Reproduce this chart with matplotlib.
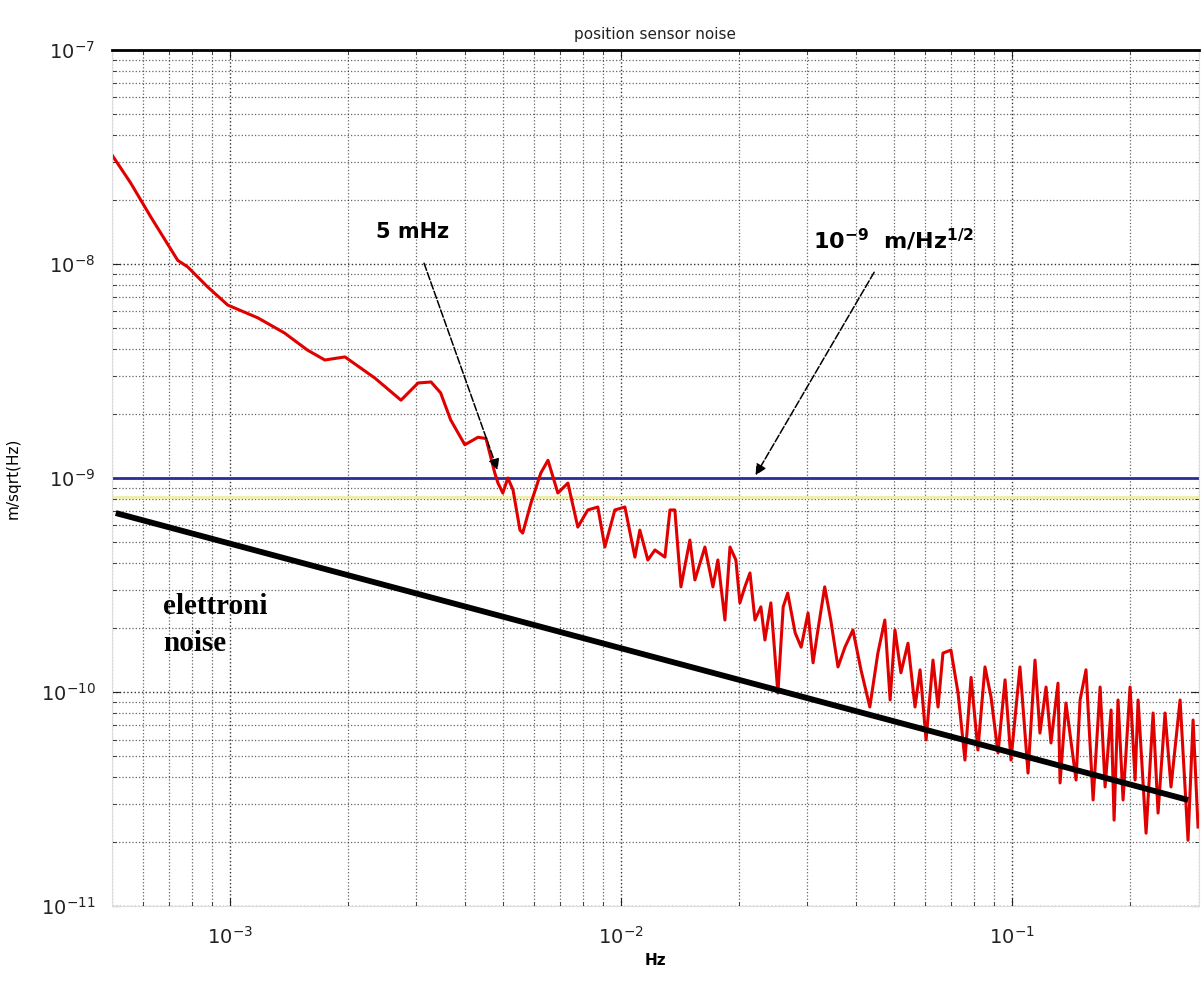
import matplotlib
matplotlib.use("Agg")
import matplotlib.pyplot as plt

# Position sensor noise spectrum (Hz, m/sqrt(Hz))
freq = [5.0e-4, 5.58e-4, 6.28e-4, 7.36e-4, 7.81e-4, 8.78e-4, 9.88e-4, 1.18e-3, 1.38e-3,
        1.58e-3, 1.75e-3, 1.97e-3, 2.35e-3, 2.74e-3, 3.03e-3, 3.27e-3, 3.46e-3, 3.67e-3,
        3.99e-3, 4.31e-3, 4.52e-3, 4.76e-3, 4.85e-3, 4.99e-3, 5.14e-3, 5.30e-3, 5.52e-3,
        5.61e-3, 5.89e-3, 6.24e-3, 6.51e-3, 6.90e-3, 7.32e-3, 7.76e-3, 8.23e-3, 8.73e-3,
        9.10e-3, 9.65e-3, 1.024e-2, 1.086e-2, 1.118e-2, 1.172e-2, 1.222e-2, 1.296e-2,
        1.335e-2, 1.374e-2, 1.424e-2, 1.501e-2, 1.546e-2, 1.640e-2, 1.719e-2, 1.770e-2,
        1.845e-2, 1.901e-2, 1.968e-2, 2.015e-2, 2.075e-2, 2.138e-2, 2.202e-2, 2.28e-2,
        2.335e-2, 2.418e-2, 2.52e-2, 2.60e-2, 2.67e-2, 2.79e-2, 2.89e-2, 3.01e-2, 3.10e-2,
        3.19e-2, 3.32e-2, 3.44e-2, 3.59e-2, 3.74e-2, 3.92e-2, 4.11e-2, 4.33e-2, 4.54e-2,
        4.73e-2, 4.88e-2, 5.02e-2, 5.20e-2, 5.42e-2, 5.65e-2, 5.82e-2, 6.03e-2, 6.28e-2,
        6.47e-2, 6.66e-2, 6.98e-2, 7.28e-2, 7.58e-2, 7.86e-2, 8.18e-2, 8.53e-2, 8.84e-2,
        9.21e-2, 9.60e-2, 9.94e-2, 0.1048, 0.1099, 0.1145, 0.1179, 0.1222, 0.1258, 0.1311,
        0.1327, 0.1374, 0.1458, 0.1493, 0.1546, 0.1612, 0.1680, 0.1730, 0.1792, 0.1824,
        0.1867, 0.1923, 0.2004, 0.2064, 0.2101, 0.2202, 0.2295, 0.2363, 0.2462, 0.2550,
        0.2690, 0.2819, 0.2904, 0.299]
asd = [3.23e-8, 2.39e-8, 1.66e-8, 1.04e-8, 9.68e-9, 7.81e-9, 6.43e-9, 5.60e-9, 4.76e-9,
       3.96e-9, 3.56e-9, 3.68e-9, 2.93e-9, 2.31e-9, 2.78e-9, 2.81e-9, 2.50e-9, 1.87e-9,
       1.43e-9, 1.55e-9, 1.53e-9, 1.055e-9, 9.47e-10, 8.51e-10, 1.0e-9, 8.79e-10, 5.71e-10,
       5.53e-10, 7.64e-10, 1.055e-9, 1.21e-9, 8.51e-10, 9.47e-10, 5.90e-10, 7.09e-10, 7.32e-10,
       4.76e-10, 7.09e-10, 7.32e-10, 4.27e-10, 5.71e-10, 4.14e-10, 4.61e-10, 4.27e-10,
       7.09e-10, 7.09e-10, 3.10e-10, 5.13e-10, 3.34e-10, 4.76e-10, 3.10e-10, 4.14e-10,
       2.17e-10, 4.76e-10, 4.14e-10, 2.61e-10, 3.10e-10, 3.60e-10, 2.17e-10, 2.50e-10,
       1.75e-10, 2.61e-10, 9.89e-11, 2.50e-10, 2.90e-10, 1.89e-10, 1.62e-10, 2.34e-10, 1.37e-10,
       1.95e-10, 3.10e-10, 2.17e-10, 1.31e-10, 1.62e-10, 1.95e-10, 1.27e-10, 8.51e-11, 1.52e-10,
       2.17e-10, 9.18e-11, 1.95e-10, 1.23e-10, 1.69e-10, 8.51e-11, 1.27e-10, 5.97e-11, 1.41e-10,
       8.51e-11, 1.52e-10, 1.57e-10, 9.89e-11, 4.81e-11, 1.17e-10, 5.36e-11, 1.31e-10, 9.47e-11,
       5.19e-11, 1.14e-10, 4.81e-11, 1.31e-10, 4.18e-11, 1.41e-10, 6.43e-11, 1.055e-10, 5.78e-11,
       1.10e-10, 3.76e-11, 8.88e-11, 3.88e-11, 9.18e-11, 1.27e-10, 3.13e-11, 1.055e-10,
       3.60e-11, 8.24e-11, 2.52e-11, 9.18e-11, 3.13e-11, 1.055e-10, 3.88e-11, 9.18e-11,
       2.19e-11, 7.98e-11, 2.72e-11, 7.98e-11, 3.60e-11, 9.18e-11, 2.03e-11, 7.40e-11, 2.34e-11]

# reference levels
requirement = 1e-9          # 10^-9 m/Hz^1/2
yellow_level = 8.15e-10
elec_f = [5.11e-4, 0.282]   # electronic noise line
elec_asd = [6.86e-10, 3.13e-11]

fig = plt.figure(figsize=(12.01, 9.86), dpi=100)
ax = fig.add_axes([0.0933, 0.0811, 0.9047, 0.8682])

ax.set_xscale('log')
ax.set_yscale('log')
ax.set_xlim(5e-4, 0.3)
ax.set_ylim(1e-11, 1e-7)

ax.grid(True, which='major', linestyle=':', color='k', linewidth=1.0, alpha=0.8)
ax.grid(True, which='minor', linestyle=':', color='k', linewidth=0.9, alpha=0.6)

ax.axhline(yellow_level, color='#eeeeaa', linewidth=2)
ax.axhline(requirement, color='#2b2b9a', linewidth=2)
ax.plot(freq, asd, color='#e00000', linewidth=2.2)
ax.plot(elec_f, elec_asd, color='black', linewidth=4.2, solid_capstyle='butt')

# annotations
ax.annotate('5 mHz', xy=(4.84e-3, 1.09e-9), xytext=(2.94e-3, 1.41e-8),
            ha='center', va='center', fontsize=15, fontweight='bold',
            arrowprops=dict(arrowstyle='-|>', color='k', lw=1.1,
                            linestyle=(0, (5, 1.5)), mutation_scale=16,
                            shrinkA=14, shrinkB=0))
ax.annotate(r'$\mathbf{10^{-9}\ \ m/Hz^{1/2}}$', xy=(2.21e-2, 1.03e-9),
            xytext=(4.97e-2, 1.3e-8), ha='center', va='center', fontsize=16,
            arrowprops=dict(arrowstyle='-|>', color='k', lw=1.1,
                            linestyle=(0, (5, 1.5)), mutation_scale=16,
                            shrinkA=14, shrinkB=0))
ax.text(6.74e-4, 2.9e-10, 'elettroni\nnoise', family='Liberation Serif',
        fontweight='bold', fontsize=21, va='top', ha='left', linespacing=1.45)

ax.set_title('position sensor noise', fontsize=11, color='#222222', pad=8)
ax.set_xlabel('Hz', fontsize=11, fontweight='bold', labelpad=4)
ax.set_ylabel('m/sqrt(Hz)', fontsize=11, labelpad=14)

ax.tick_params(which='both', direction='in', colors='#222222', top=True, right=True)
ax.tick_params(which='major', length=6, labelsize=14)
ax.tick_params(which='minor', length=3)
ax.tick_params(axis='x', pad=14)
ax.tick_params(axis='y', pad=12)

for side in ['left', 'bottom', 'right']:
    ax.spines[side].set_color('#dddddd')
ax.spines['top'].set_linewidth(2)
ax.spines['top'].set_color('black')

fig.savefig('out.png', dpi=100)
